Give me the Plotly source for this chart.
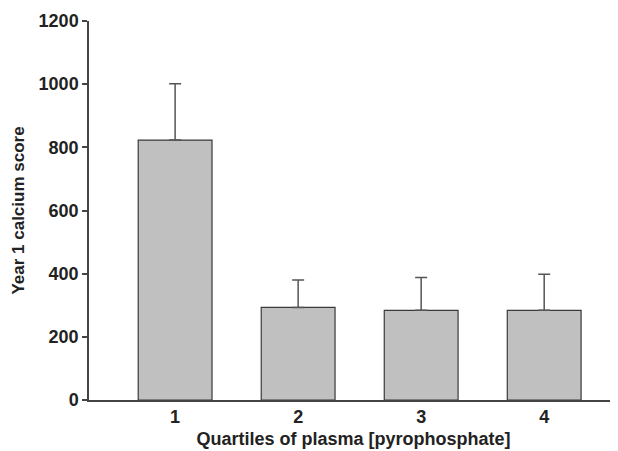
import plotly.graph_objects as go

quartiles = [1, 2, 3, 4]
calcium_score = [823, 293, 284, 284]
error_upper = [178, 87, 104, 114]
y_ticks = [0, 200, 400, 600, 800, 1000, 1200]

fig = go.Figure()
fig.add_trace(go.Bar(
    x=quartiles,
    y=calcium_score,
    width=0.6,
    marker=dict(color="#c0c0c0", line=dict(color="#3a3a3a", width=1.2)),
    error_y=dict(type="data", symmetric=False, array=error_upper,
                 arrayminus=[0] * len(error_upper),
                 color="#555555", thickness=1.5, width=6),
))

font_family = "Liberation Sans, Arial, sans-serif"
# page body has an 8px default margin, so the figure is sized to end at 618x451
fig.update_layout(
    width=610, height=443,
    margin=dict(l=81, r=0, t=13, b=51),
    plot_bgcolor="white", paper_bgcolor="white",
    showlegend=False,
    font=dict(family=font_family, size=17, color="#222222"),
    xaxis=dict(
        range=[0.30, 4.60],
        tickmode="array", tickvals=quartiles, ticktext=[str(q) for q in quartiles],
        showline=True, linecolor="#444444", linewidth=1.5,
        ticks="", showgrid=False, zeroline=False,
        tickfont=dict(family=font_family, size=18, color="#222222", weight="bold"),
        title=dict(text="<b>Quartiles of plasma [pyrophosphate]</b>", standoff=6,
                   font=dict(family=font_family, size=18, color="#222222")),
    ),
    yaxis=dict(
        range=[0, 1200],
        tickmode="array", tickvals=y_ticks, ticktext=[str(t) for t in y_ticks],
        showline=True, linecolor="#444444", linewidth=1.5,
        ticks="outside", ticklen=5, tickwidth=1.5, tickcolor="#444444",
        showgrid=False, zeroline=False,
        tickfont=dict(family=font_family, size=18, color="#222222", weight="bold"),
        title=dict(text="<b>Year 1 calcium score</b>", standoff=10,
                   font=dict(family=font_family, size=17, color="#222222")),
    ),
)

fig.write_html("out.html")
